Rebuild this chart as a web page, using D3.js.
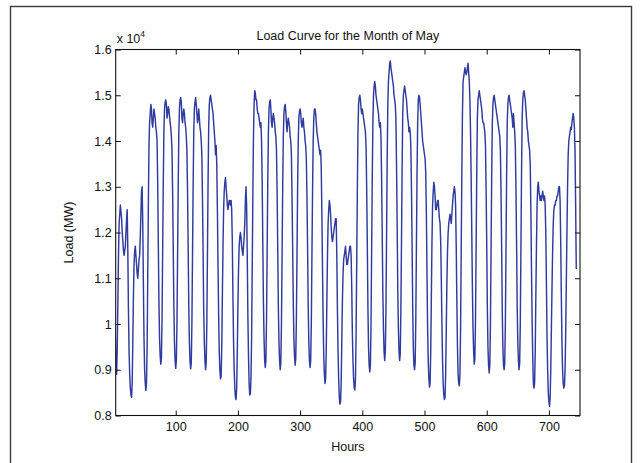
<!DOCTYPE html>
<html>
<head>
<meta charset="utf-8">
<script src="https://cdn.jsdelivr.net/npm/d3@7"></script>
<style>
body { margin: 0; background: #fff; }
svg text { font-family: "Liberation Sans", Arial, sans-serif; fill: #111; }
</style>
</head>
<body>
<div class="load_chart"></div>
<script>

// hourly load in MW, one line per day (24 h)
let week1Load = [
    10100, 9900, 9700, 8950, 8900, 9500, 10500, 11500, 12200, 12400, 12600, 12450, 12300, 12000, 11800, 11600, 11500, 11600, 11700, 12000, 12300, 12500, 11600, 10300,
    9400, 8900, 8600, 8450, 8400, 8700, 9600, 10600, 11300, 11600, 11700, 11500, 11300, 11100, 11000, 11200, 11400, 11500, 11900, 12400, 12900, 13000, 12200, 10900,
    9700, 9000, 8700, 8550, 8700, 9500, 11000, 12600, 13900, 14400, 14600, 14800, 14700, 14400, 14300, 14500, 14700, 14600, 14500, 14300, 14200, 14000, 13100, 11800,
    10500, 9700, 9300, 9120, 9250, 10100, 11600, 13100, 14200, 14700, 14850, 14900, 14800, 14500, 14600, 14750, 14700, 14550, 14400, 14300, 14100, 13800, 12900, 11700,
    10400, 9600, 9200, 9030, 9200, 10000, 11500, 13000, 14200, 14700, 14900, 14950, 14850, 14500, 14400, 14600, 14700, 14600, 14400, 14300, 14100, 13800, 12900, 11700,
    10400, 9600, 9200, 9020, 9150, 10000, 11500, 13000, 14200, 14700, 14850, 14950, 14800, 14600, 14400, 14500, 14700, 14500, 14300, 14200, 14000, 13700, 12800, 11600,
    10300, 9600, 9200, 9000, 9150, 10000, 11500, 13100, 14300, 14800, 14950, 15000, 14900, 14800, 14700, 14600, 14400, 14200, 14000, 13700, 13900, 13500, 12500, 11300
]
let week2Load = [
    10200, 9400, 9000, 8800, 8850, 9500, 10600, 11700, 12500, 12900, 13100, 13200, 13000, 12800, 12600, 12500, 12600, 12700, 12700, 12600, 12700, 12500, 11800, 10600,
    9600, 9000, 8600, 8400, 8350, 8600, 9400, 10400, 11200, 11700, 11900, 12000, 11900, 11700, 11600, 11500, 11700, 11900, 12200, 12700, 13000, 12600, 11500, 10200,
    9300, 8700, 8450, 8470, 8800, 9700, 11200, 12800, 14100, 14800, 15100, 15050, 14900, 14900, 14700, 14600, 14600, 14500, 14400, 14300, 14400, 14000, 13100, 11800,
    10500, 9700, 9200, 9050, 9200, 10100, 11600, 13100, 14200, 14700, 14850, 14900, 14700, 14400, 14300, 14500, 14600, 14500, 14400, 14200, 14100, 13800, 12900, 11700,
    10400, 9600, 9200, 9000, 9150, 10000, 11500, 13000, 14100, 14600, 14750, 14800, 14650, 14400, 14200, 14400, 14500, 14400, 14300, 14100, 14000, 13700, 12800, 11700,
    10500, 9700, 9300, 9100, 9250, 10100, 11500, 13000, 14000, 14500, 14650, 14700, 14600, 14400, 14300, 14400, 14500, 14300, 14200, 14000, 13900, 13600, 12800, 11700,
    10400, 9600, 9200, 9050, 9200, 10000, 11500, 12900, 14000, 14500, 14700, 14700, 14600, 14400, 14200, 14100, 14000, 13900, 13800, 13700, 13800, 13400, 12400, 11200
]
let week3Load = [
    10100, 9300, 8900, 8700, 8800, 9400, 10500, 11500, 12200, 12500, 12700, 12600, 12400, 12100, 11900, 11800, 11900, 12000, 12100, 12200, 12300, 12300, 11500, 10300,
    9400, 8800, 8400, 8250, 8300, 8700, 9600, 10500, 11100, 11400, 11500, 11600, 11700, 11500, 11300, 11300, 11400, 11500, 11600, 11700, 11700, 11500, 10800, 9800,
    9200, 8800, 8600, 8560, 8800, 9800, 11300, 12900, 14200, 14800, 14950, 15000, 14900, 14700, 14600, 14700, 14600, 14500, 14400, 14300, 14200, 13900, 13000, 11800,
    10400, 9500, 9100, 8950, 9100, 10000, 11600, 13200, 14400, 15000, 15200, 15300, 15200, 15000, 14900, 14800, 14700, 14600, 14400, 14300, 14400, 14100, 13200, 12000,
    10700, 9900, 9400, 9200, 9400, 10300, 11900, 13600, 14800, 15300, 15500, 15700, 15750, 15600, 15500, 15400, 15300, 15200, 15000, 14900, 14800, 14500, 13500, 12200,
    10800, 9900, 9400, 9200, 9350, 10300, 11800, 13400, 14600, 15000, 15100, 15200, 15100, 15000, 14900, 14700, 14500, 14400, 14200, 14300, 14200, 13900, 13000, 11800,
    10400, 9500, 9100, 9000, 9150, 10100, 11700, 13300, 14400, 14900, 15000, 14950, 14800, 14600, 14400, 14200, 14000, 13900, 13800, 13700, 13600, 13300, 12400, 11100
]
let week4Load = [
    9900, 9200, 8800, 8620, 8700, 9400, 10600, 11800, 12600, 12900, 13100, 13000, 12800, 12500, 12500, 12600, 12700, 12700, 12500, 12300, 12200, 11800, 11000, 10000,
    9200, 8700, 8450, 8350, 8400, 8900, 9900, 10900, 11600, 12000, 12200, 12300, 12400, 12300, 12200, 12400, 12600, 12800, 12900, 13000, 12900, 12600, 11700, 10500,
    9500, 8900, 8700, 8650, 8900, 9900, 11600, 13300, 14600, 15300, 15400, 15500, 15600, 15500, 15450, 15500, 15600, 15700, 15500, 15300, 14900, 14200, 13200, 12000,
    10800, 9900, 9400, 9120, 9250, 10100, 11700, 13300, 14500, 14900, 15000, 15100, 15000, 14900, 14800, 14700, 14500, 14400, 14400, 14300, 14200, 13900, 13000, 11800,
    10400, 9500, 9100, 8930, 9100, 10000, 11600, 13200, 14400, 14800, 14950, 15000, 14900, 14800, 14700, 14600, 14500, 14400, 14300, 14200, 14100, 13800, 12900, 11700,
    10300, 9500, 9100, 9000, 9150, 10000, 11600, 13200, 14400, 14800, 14950, 15000, 14900, 14800, 14700, 14600, 14500, 14300, 14600, 14400, 14200, 13900, 13000, 11800,
    10400, 9600, 9200, 9000, 9150, 10000, 11600, 13300, 14500, 14900, 15050, 15100, 15000, 14900, 14700, 14500, 14300, 14200, 14000, 13900, 13800, 13500, 12500, 11200
]
let week5Load = [
    10100, 9300, 8700, 8600, 8700, 9400, 10600, 11700, 12600, 13000, 13100, 12900, 12800, 12700, 12800, 12700, 12800, 12900, 12800, 12700, 12800, 12600, 12000, 10900,
    9700, 9000, 8500, 8300, 8200, 8400, 9000, 9900, 10800, 11600, 12200, 12500, 12600, 12600, 12700, 12700, 12800, 12800, 12900, 13000, 13000, 12700, 11800, 10600,
    9600, 9000, 8700, 8600, 8650, 9000, 9800, 10900, 12000, 13000, 13700, 14000, 14100, 14200, 14300, 14250, 14400, 14500, 14600, 14500, 14300, 13800, 12600, 11200
]

let xTicks = [100, 200, 300, 400, 500, 600, 700]
let yTicks = [8000, 9000, 10000, 11000, 12000, 13000, 14000, 15000, 16000]
let yTickLabels = ['0.8', '0.9', '1', '1.1', '1.2', '1.3', '1.4', '1.5', '1.6']

let load = [].concat(week1Load, week2Load, week3Load, week4Load, week5Load)

let width = 643
let height = 463
let plot = {left: 115.7, right: 580, top: 49.5, bottom: 415.5}

let x = d3.scaleLinear().domain([3.5, 750]).range([plot.left, plot.right])
let y = d3.scaleLinear().domain([8000, 16000]).range([plot.bottom, plot.top])

const svg = d3.create("svg")
    .attr("width", width)
    .attr("height", height)

// figure frame
svg.append("rect")
    .attr("x", 10.5).attr("y", 6.5)
    .attr("width", 621).attr("height", 480)
    .attr("fill", "none")
    .attr("stroke", "#3a3a3a")
    .attr("stroke-width", 1.4)

svg.append("clipPath").attr("id", "clip")
    .append("rect")
    .attr("x", plot.left).attr("y", plot.top)
    .attr("width", plot.right - plot.left).attr("height", plot.bottom - plot.top)

let line = d3.line()
    .x((d, i) => x(i + 1))
    .y(d => y(d))

svg.append("path")
    .datum(load)
    .attr("clip-path", "url(#clip)")
    .attr("fill", "none")
    .attr("stroke", "#2f3b9e")
    .attr("stroke-width", 1.45)
    .attr("stroke-linejoin", "round")
    .attr("d", line)

function styleAxis(g) {
    g.select(".domain").remove()
    g.selectAll(".tick line").attr("stroke", "#111")
    g.selectAll(".tick text").attr("font-size", 12.5).attr("fill", "#111")
}

svg.append("g")
    .attr("transform", `translate(0,${plot.bottom})`)
    .call(d3.axisBottom(x).tickValues(xTicks).tickSize(-5).tickPadding(7))
    .call(styleAxis)

svg.append("g")
    .attr("transform", `translate(0,${plot.top})`)
    .call(d3.axisTop(x).tickValues(xTicks).tickSize(-5).tickFormat(""))
    .call(styleAxis)

svg.append("g")
    .attr("transform", `translate(${plot.left},0)`)
    .call(d3.axisLeft(y).tickValues(yTicks).tickSize(-5).tickPadding(4)
        .tickFormat((d, i) => yTickLabels[i]))
    .call(styleAxis)

svg.append("g")
    .attr("transform", `translate(${plot.right},0)`)
    .call(d3.axisRight(y).tickValues(yTicks).tickSize(-5).tickFormat(""))
    .call(styleAxis)

svg.append("rect")
    .attr("x", plot.left).attr("y", plot.top)
    .attr("width", plot.right - plot.left).attr("height", plot.bottom - plot.top)
    .attr("fill", "none")
    .attr("stroke", "#111")
    .attr("stroke-width", 1.1)

svg.append("text")
    .attr("x", (plot.left + plot.right) / 2)
    .attr("y", 40)
    .attr("text-anchor", "middle")
    .attr("font-size", 12.5)
    .text("Load Curve for the Month of May")

let expo = svg.append("text")
    .attr("x", plot.left + 1)
    .attr("y", 43)
    .attr("font-size", 12.5)
expo.append("tspan").text("x 10")
expo.append("tspan").attr("font-size", 8.5).attr("dy", -6).text("4")

svg.append("text")
    .attr("x", (plot.left + plot.right) / 2)
    .attr("y", 451)
    .attr("text-anchor", "middle")
    .attr("font-size", 12.5)
    .text("Hours")

svg.append("text")
    .attr("transform", `translate(73,${(plot.top + plot.bottom) / 2}) rotate(-90)`)
    .attr("text-anchor", "middle")
    .attr("font-size", 12.5)
    .text("Load (MW)")

d3.select(".load_chart").node().append(svg.node())
</script>
</body>
</html>
